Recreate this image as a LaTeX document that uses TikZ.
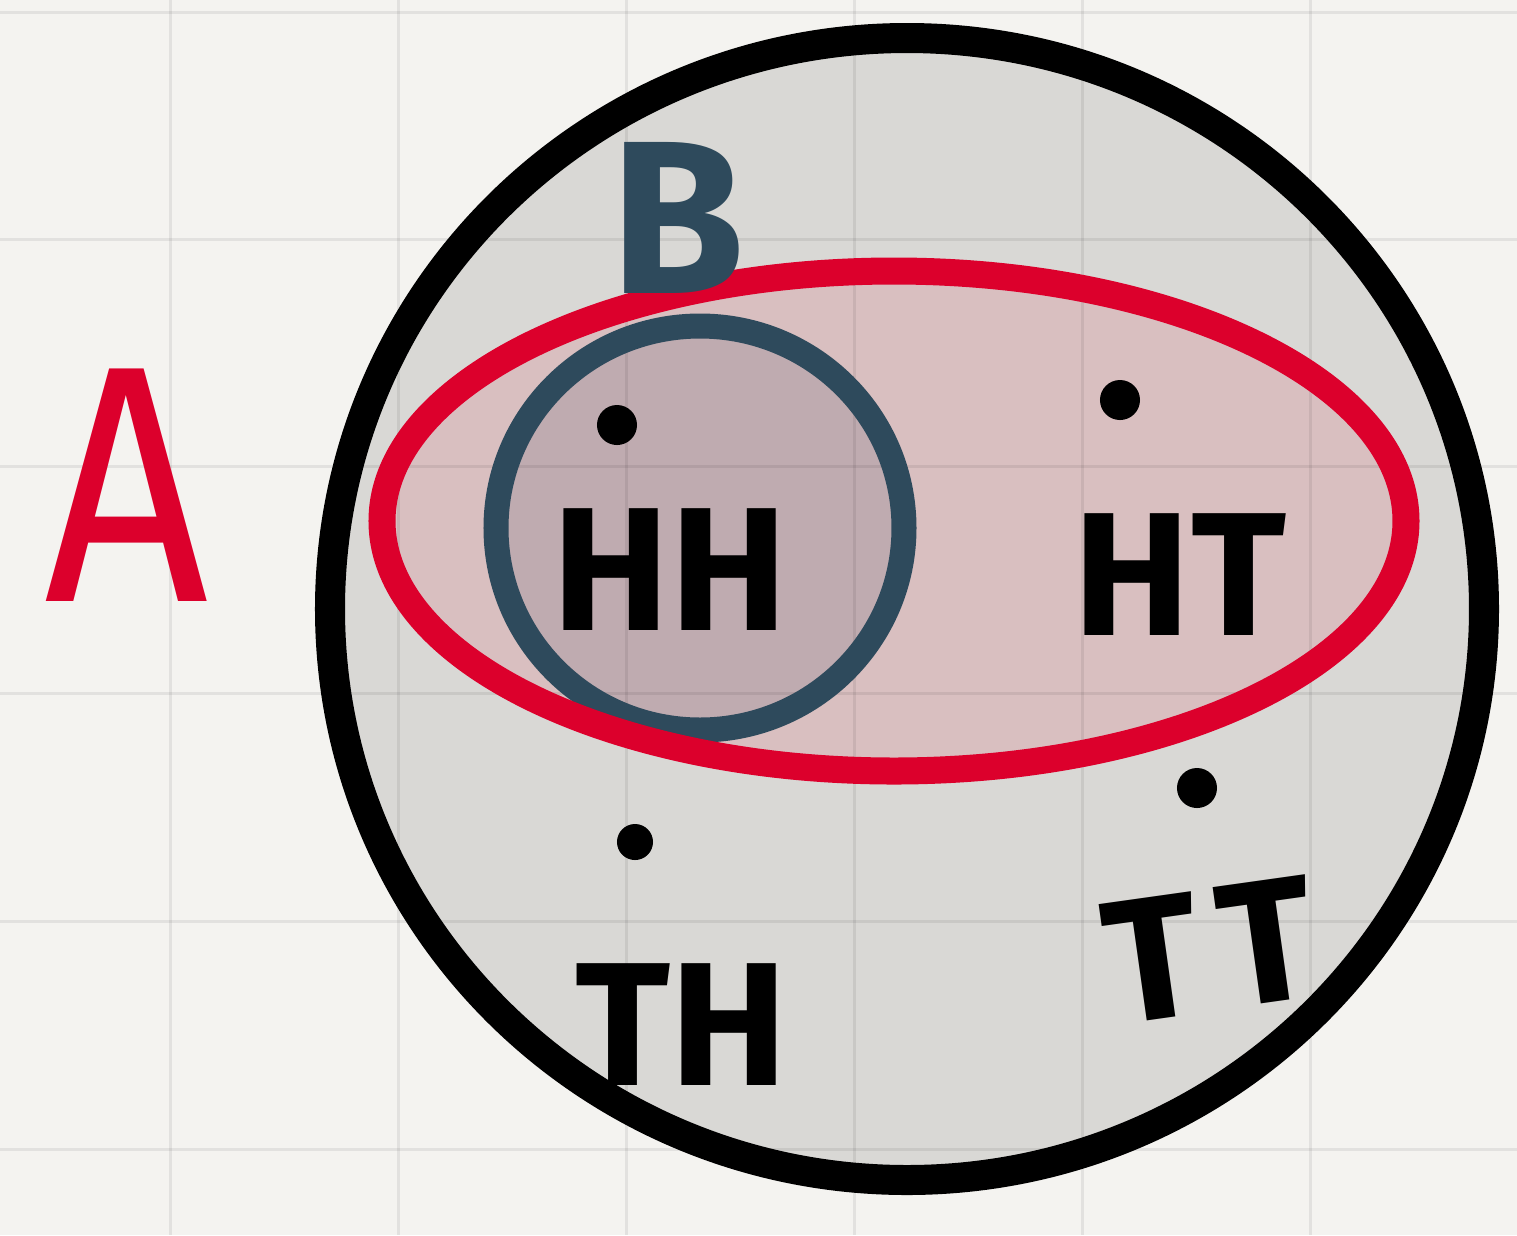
\documentclass[tikz,border=0pt]{standalone}
\usepackage{fontspec}
\setmainfont{Fira Sans}
\definecolor{bgc}{HTML}{F4F3F0}
\definecolor{circfill}{HTML}{D9D8D5}
\definecolor{redc}{HTML}{DC002C}
\definecolor{redfill}{HTML}{D9BFC0}
\definecolor{bluec}{HTML}{2E4A5C}
\definecolor{bluefill}{HTML}{BFABB0}
\tikzset{
  gridline/.style={black, opacity=0.07, line width=0.03cm},
  pt/.style={circle, fill=black, inner sep=0pt, minimum size=0.4cm},
  lbl/.style={inner sep=0pt, font=\bfseries\fontsize{50}{52}\selectfont, text=black},
}
\begin{document}
\begin{tikzpicture}[x=0.01cm,y=-0.01cm]
\fill[bgc] (0,0) rectangle (1517,1235);
\useasboundingbox (0,0) rectangle (1517,1235);
% fills
\fill[circfill] (907,609) ellipse [x radius=577, y radius=571];
\fill[redfill] (894,521) ellipse [x radius=512, y radius=250];
\fill[bluefill] (700,528) ellipse [x radius=204, y radius=202];
% grid
\foreach \gx in {170,398,626,854,1082,1310} \draw[gridline] (\gx,0) -- (\gx,1235);
\foreach \gy in {12,239,466,693,921,1149} \draw[gridline] (0,\gy) -- (1517,\gy);
% outlines
\draw[black, line width=0.3cm] (907,609) ellipse [x radius=577, y radius=571];
\draw[bluec, line width=0.25cm] (700,528) ellipse [x radius=204, y radius=202];
\draw[redc, line width=0.27cm] (894,521) ellipse [x radius=512, y radius=250];
% labels
\node[inner sep=0pt, text=redc, font=\fontsize{96}{98}\selectfont, xscale=0.85] (A) at (127,485) {A};
\node[inner sep=0pt, text=bluec, font=\bfseries\fontsize{62}{64}\selectfont] (B) at (678,218) {B};
\node[pt] (d1) at (617,425) {};
\node[pt] (d2) at (1120,400) {};
\node[pt, minimum size=0.36cm] (d3) at (635,842) {};
\node[pt] (d4) at (1197,788) {};
\node[lbl] (HH) at (670,570) {HH};
\node[lbl] (HT) at (1180,575) {HT};
\node[lbl] (TH) at (682,1025) {TH};
\node[lbl, rotate=8] (TT) at (1210,950) {T\kern6pt T};
\end{tikzpicture}
\end{document}
